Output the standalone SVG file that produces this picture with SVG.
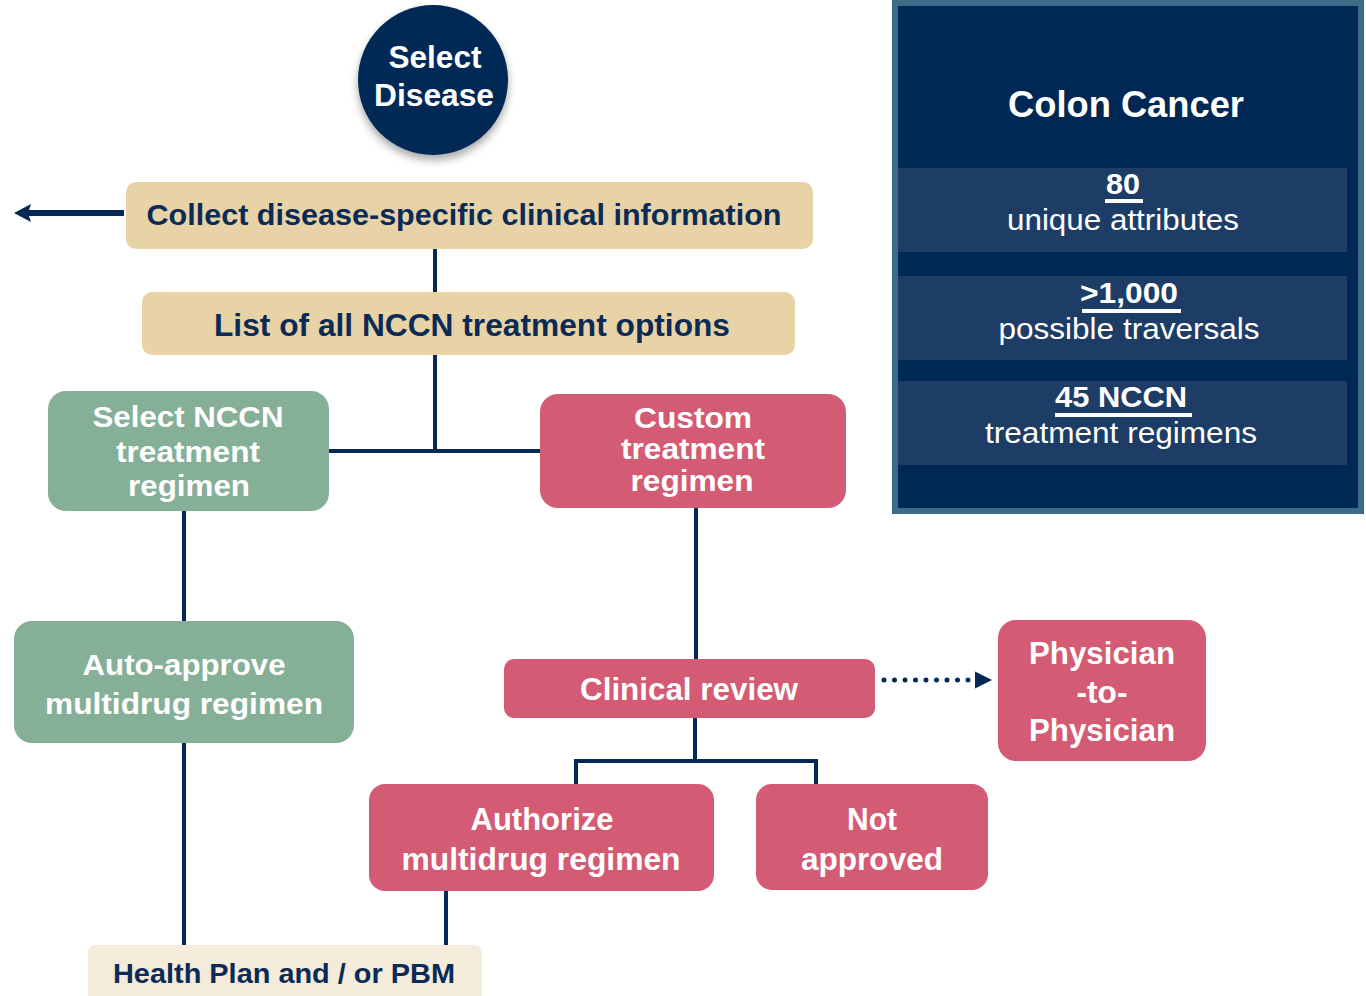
<svg xmlns="http://www.w3.org/2000/svg" width="1366" height="996" viewBox="0 0 1366 996">
  <defs>
    <filter id="soft-shadow" x="-30%" y="-30%" width="160%" height="170%">
      <feDropShadow dx="0" dy="5" stdDeviation="4" flood-color="#000" flood-opacity="0.35"/>
    </filter>
    <marker id="arrow-solid" markerWidth="18" markerHeight="18" refX="5" refY="9" orient="auto" markerUnits="userSpaceOnUse" overflow="visible">
      <path d="M0,0 L17,9 L0,18 L3,9 Z" fill="#032a57"/>
    </marker>
    <marker id="arrow-dot" markerWidth="17" markerHeight="17" refX="1" refY="8.5" orient="auto" markerUnits="userSpaceOnUse" overflow="visible">
      <path d="M0,0 L17,8.5 L0,17 Z" fill="#032a57"/>
    </marker>
  </defs>
  <style>
    text { font-family: "Liberation Sans", Arial, sans-serif; text-anchor: middle; }
    .b { font-weight: bold; }
    .navy { fill: #0b2b56; }
    .white { fill: #ffffff; }
    .tan { fill: #e8d3a7; }
    .cream { fill: #f5ebdb; }
    .green { fill: #86af98; }
    .red { fill: #d35b73; }
    .line { stroke: #032a57; stroke-width: 4; fill: none; }
    .heavy { stroke-width: 6; }
    .dotted { stroke-width: 5; stroke-linecap: round; stroke-dasharray: 0 10.5; }
    .band { fill: #1d3d66; }
  </style>

  <rect width="1366" height="996" fill="#ffffff"/>

  <!-- connectors -->
  <g id="connectors">
    <line class="line heavy" x1="124" y1="213" x2="26" y2="213" marker-end="url(#arrow-solid)"/>
    <line class="line" x1="435" y1="249" x2="435" y2="292"/>
    <line class="line" x1="435" y1="355" x2="435" y2="451"/>
    <line class="line" x1="329" y1="451" x2="540" y2="451"/>
    <line class="line" x1="184" y1="511" x2="184" y2="621"/>
    <line class="line" x1="184" y1="743" x2="184" y2="945"/>
    <line class="line" x1="696" y1="508" x2="696" y2="659"/>
    <path class="line" d="M695,718 V761 M576,786 V761 H816 V786"/>
    <line class="line" x1="446" y1="891" x2="446" y2="946"/>
    <line class="line dotted" x1="884" y1="680" x2="976" y2="680" marker-end="url(#arrow-dot)"/>
  </g>

  <!-- start node -->
  <g id="select-disease">
    <circle cx="433" cy="80" r="75" fill="#022a55" filter="url(#soft-shadow)"/>
    <text class="b white" x="435" y="68" font-size="31" textLength="93" lengthAdjust="spacingAndGlyphs">Select</text>
    <text class="b white" x="434" y="106" font-size="31" textLength="120" lengthAdjust="spacingAndGlyphs">Disease</text>
  </g>

  <g id="collect-info">
    <rect class="tan" x="126" y="182" width="687" height="67" rx="10"/>
    <text class="b navy" x="464" y="225" font-size="30" textLength="635" lengthAdjust="spacingAndGlyphs">Collect disease-specific clinical information</text>
  </g>

  <g id="nccn-options">
    <rect class="tan" x="142" y="292" width="653" height="63" rx="10"/>
    <text class="b navy" x="472" y="336" font-size="31" textLength="516" lengthAdjust="spacingAndGlyphs">List of all NCCN treatment options</text>
  </g>

  <g id="select-nccn">
    <rect class="green" x="48" y="391" width="281" height="120" rx="18"/>
    <text class="b white" x="188" y="427" font-size="30" textLength="191" lengthAdjust="spacingAndGlyphs">Select NCCN</text>
    <text class="b white" x="188" y="462" font-size="30" textLength="144" lengthAdjust="spacingAndGlyphs">treatment</text>
    <text class="b white" x="189" y="496" font-size="30" textLength="122" lengthAdjust="spacingAndGlyphs">regimen</text>
  </g>

  <g id="custom-regimen">
    <rect class="red" x="540" y="394" width="306" height="114" rx="18"/>
    <text class="b white" x="693" y="428" font-size="30" textLength="118" lengthAdjust="spacingAndGlyphs">Custom</text>
    <text class="b white" x="693" y="459" font-size="30" textLength="144" lengthAdjust="spacingAndGlyphs">treatment</text>
    <text class="b white" x="692" y="491" font-size="30" textLength="123" lengthAdjust="spacingAndGlyphs">regimen</text>
  </g>

  <g id="auto-approve">
    <rect class="green" x="14" y="621" width="340" height="122" rx="18"/>
    <text class="b white" x="184" y="675" font-size="30" textLength="203" lengthAdjust="spacingAndGlyphs">Auto-approve</text>
    <text class="b white" x="184" y="714" font-size="30" textLength="278" lengthAdjust="spacingAndGlyphs">multidrug regimen</text>
  </g>

  <g id="clinical-review">
    <rect class="red" x="504" y="659" width="371" height="59" rx="10"/>
    <text class="b white" x="689" y="700" font-size="31" textLength="218" lengthAdjust="spacingAndGlyphs">Clinical review</text>
  </g>

  <g id="peer-to-peer">
    <rect class="red" x="998" y="620" width="208" height="141" rx="18"/>
    <text class="b white" x="1102" y="664" font-size="31" textLength="146" lengthAdjust="spacingAndGlyphs">Physician</text>
    <text class="b white" x="1102" y="703" font-size="31" textLength="51" lengthAdjust="spacingAndGlyphs">-to-</text>
    <text class="b white" x="1102" y="741" font-size="31" textLength="146" lengthAdjust="spacingAndGlyphs">Physician</text>
  </g>

  <g id="authorize">
    <rect class="red" x="369" y="784" width="345" height="107" rx="16"/>
    <text class="b white" x="542" y="830" font-size="31" textLength="143" lengthAdjust="spacingAndGlyphs">Authorize</text>
    <text class="b white" x="541" y="870" font-size="31" textLength="279" lengthAdjust="spacingAndGlyphs">multidrug regimen</text>
  </g>

  <g id="not-approved">
    <rect class="red" x="756" y="784" width="232" height="106" rx="16"/>
    <text class="b white" x="872" y="830" font-size="31" textLength="50" lengthAdjust="spacingAndGlyphs">Not</text>
    <text class="b white" x="872" y="870" font-size="31" textLength="142" lengthAdjust="spacingAndGlyphs">approved</text>
  </g>

  <g id="health-plan">
    <rect class="cream" x="88" y="945" width="394" height="62" rx="8"/>
    <text class="b navy" x="284" y="983" font-size="28" textLength="342" lengthAdjust="spacingAndGlyphs">Health Plan and / or PBM</text>
  </g>

  <!-- summary panel -->
  <g id="colon-cancer-panel">
    <rect x="895" y="3" width="466" height="508" fill="#002855" stroke="#3d6a87" stroke-width="6"/>
    <rect class="band" x="898" y="168" width="449" height="84"/>
    <rect class="band" x="898" y="276" width="449" height="84"/>
    <rect class="band" x="898" y="381" width="449" height="84"/>
    <text class="b white" x="1126" y="117" font-size="36" textLength="236" lengthAdjust="spacingAndGlyphs">Colon Cancer</text>

    <text class="b white" x="1123" y="194" font-size="30" textLength="34" lengthAdjust="spacingAndGlyphs">80</text>
    <rect x="1105" y="199" width="38" height="4" fill="#ffffff"/>
    <text class="white" x="1123" y="230" font-size="29" textLength="232" lengthAdjust="spacingAndGlyphs">unique attributes</text>

    <text class="b white" x="1129" y="303" font-size="30" textLength="98" lengthAdjust="spacingAndGlyphs">&gt;1,000</text>
    <rect x="1082" y="309" width="99" height="4" fill="#ffffff"/>
    <text class="white" x="1129" y="339" font-size="29" textLength="261" lengthAdjust="spacingAndGlyphs">possible traversals</text>

    <text class="b white" x="1121" y="407" font-size="30" textLength="132" lengthAdjust="spacingAndGlyphs">45 NCCN</text>
    <rect x="1055" y="413" width="137" height="4" fill="#ffffff"/>
    <text class="white" x="1121" y="443" font-size="29" textLength="272" lengthAdjust="spacingAndGlyphs">treatment regimens</text>
  </g>
</svg>
